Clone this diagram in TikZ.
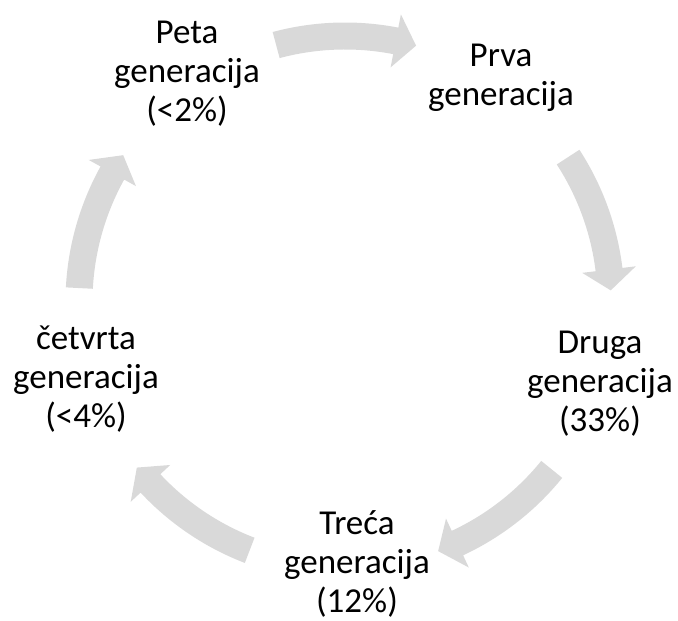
\documentclass[tikz,border=0pt]{standalone}
\usepackage{fontspec}
\setmainfont{Carlito}
\definecolor{arrowgray}{HTML}{D9D9D9}
\begin{document}
\begin{tikzpicture}[x=1pt,y=1pt,
  lbl/.style={align=center, inner sep=0pt, font=\fontsize{35}{39}\selectfont, text=black},
  cyc/.style={fill=arrowgray, draw=none}]
\useasboundingbox (0,0) rectangle (678,621);
\coordinate (C) at (345,319);
\node[lbl] (peta) at (187,547) {Peta\\generacija\\(<2\%)};
\node[lbl] (prva) at (501,543) {Prva\\generacija};
\node[lbl] (druga) at (600,237) {Druga\\generacija\\(33\%)};
\node[lbl] (treca) at (357,57) {Treća\\generacija\\(12\%)};
\node[lbl] (cetvrta) at (86,242) {četvrta\\generacija\\(<4\%)};
\foreach \m in {90,18,-54,-126,162} {
  \path[cyc] ([shift={(\m+15:279.5)}]C)
    arc[start angle=\m+15, end angle=\m-11, radius=279.5]
    -- ([shift={(\m-11:293)}]C)
    -- ([shift={(\m-15.5:266)}]C)
    -- ([shift={(\m-11:239)}]C)
    -- ([shift={(\m-11:252.5)}]C)
    arc[start angle=\m-11, end angle=\m+15, radius=252.5]
    -- cycle;
}
\end{tikzpicture}
\end{document}
